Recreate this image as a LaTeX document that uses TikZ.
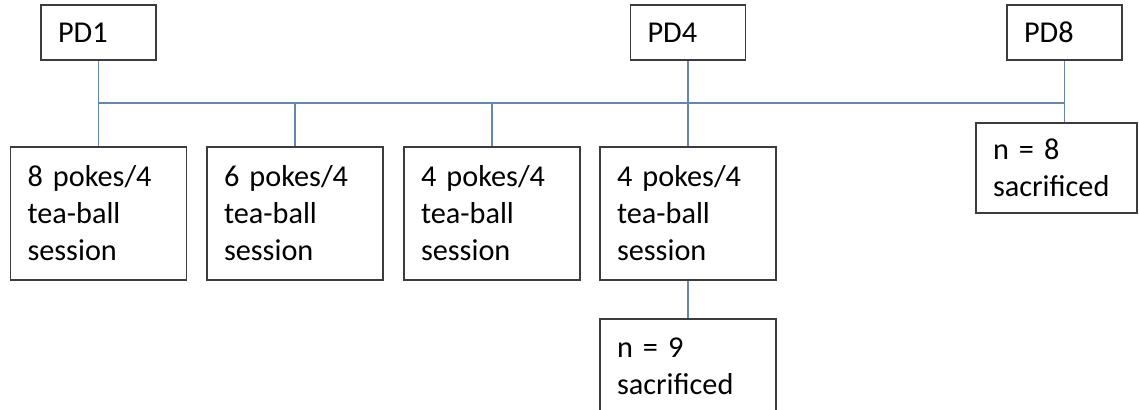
\documentclass[tikz,border=0pt]{standalone}
\usepackage{fontspec}
\setmainfont{Carlito}
\usetikzlibrary{positioning, calc}

\begin{document}
\begin{tikzpicture}[
    x=0.75pt, y=-0.75pt,     % pixel units, y pointing down
    font=\fontsize{22.7}{27.75}\selectfont,
    box/.style={
        draw=colorBorder,
        line width=1.4pt,
        align=left,
        inner xsep=12.75pt,
        inner ysep=0pt
    },
    daybox/.style={box, minimum width=86.25pt, minimum height=41.25pt, text width=60.75pt},
    stepbox/.style={box, minimum width=132pt, minimum height=99.75pt, text width=106.5pt},
    link/.style={draw=colorLink, line width=0.9pt}
]

%--- Define colors ---
\definecolor{colorBorder}{RGB}{60,60,60}      % Dark gray frame
\definecolor{colorLink}{RGB}{100,135,175}     % Steel blue connector

\useasboundingbox (0,0) rectangle (1139,410);
\clip (0,0) rectangle (1139,410);

%------------------------------------
% TOP ROW: POSTNATAL DAYS
%------------------------------------
\node[daybox] (pd1) at (98.5,32.5) {PD1};
\node[daybox] (pd4) at (688,32.5) {PD4};
\node[daybox] (pd8) at (1064.5,32.5) {PD8};

% Bus line
\coordinate (bus) at (0,103);

%------------------------------------
% MIDDLE ROW: TEA-BALL SESSIONS
%------------------------------------
\node[stepbox] (step1) at (98.5,213.5) {8 pokes/4\\tea-ball\\session};
\node[stepbox] (step2) at (295,213.5) {6 pokes/4\\tea-ball\\session};
\node[stepbox] (step3) at (492,213.5) {4 pokes/4\\tea-ball\\session};
\node[stepbox] (step4) at (688,213.5) {4 pokes/4\\tea-ball\\session};

%------------------------------------
% SACRIFICED GROUPS
%------------------------------------
\node[box, minimum width=120.75pt, minimum height=67.5pt, text width=95.25pt]
(res8) at (1056.5,168) {n = 8\\sacrificed};
\node[box, minimum width=132pt, minimum height=71.25pt, text width=106.5pt]
(res4) at (688,366.5) {n = 9\\sacrificed};

%------------------
% EDGES (LINES)
%------------------
\draw[link] (pd1.south |- bus) -- (pd8.south |- bus);
\draw[link] (pd1.south) -- (step1.north);
\draw[link] (step2.north) -- (step2.north |- bus);
\draw[link] (step3.north) -- (step3.north |- bus);
\draw[link] (pd4.south) -- (step4.north);
\draw[link] (pd8.south) -- (pd8.south |- res8.north);
\draw[link] (step4.south) -- (res4.north);

\end{tikzpicture}
\end{document}
